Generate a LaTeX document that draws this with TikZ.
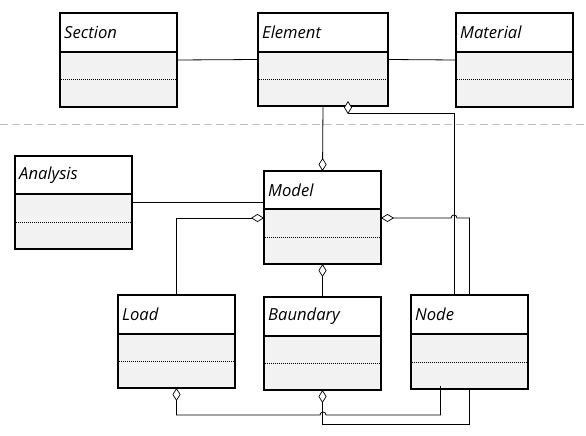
\documentclass[tikz,border=0pt]{standalone}
\usepackage{fontspec}
\setmainfont{Open Sans}
\usetikzlibrary{arrows.meta,calc}
\definecolor{boxgray}{HTML}{F2F2F2}
\definecolor{sepgray}{HTML}{BFBFBF}
\tikzset{
  classbody/.style={draw, line width=2pt, fill=boxgray, inner sep=0pt, outer sep=0pt, anchor=north west},
  classhead/.style={draw, line width=2pt, fill=white, inner sep=0pt, outer sep=0pt, anchor=north west},
  classname/.style={font=\itshape\fontsize{16.6}{18}\selectfont, anchor=west, inner sep=0pt},
  dotline/.style={line width=0.6pt, dash pattern=on 1pt off 1pt},
  link/.style={line width=0.8pt},
  agg/.style={link, -{Diamond[open, fill=white, width=8pt, length=13pt, line width=0.7pt]}},
  sepline/.style={sepgray, line width=1pt, dash pattern=on 8pt off 4pt}
}
\newcommand{\umlclass}[8]{%
  \node[classbody, minimum width={(#4-#2)*1pt}, minimum height={(#5-#3)*1pt}] (#1) at (#2,#3) {};
  \node[classhead, minimum width={(#4-#2)*1pt}, minimum height={(#6-#3)*1pt}] (#1-head) at (#2,#3) {};
  \draw[dotline] (#2+1,#7) -- (#4-1,#7);
  \node[classname] (#1-label) at ({#2+4},{(#3+#6)/2}) {#8};
}
\begin{document}
\begin{tikzpicture}[x=1pt,y=-1pt]
\useasboundingbox (0,0) rectangle (586,436);
% separator
\draw[sepline] (0,124) -- (586,124);
% classes
\umlclass{section}{60}{13}{177}{107}{52}{79}{Section}
\umlclass{element}{258}{13}{388}{106}{52}{79}{Element}
\umlclass{material}{456}{13}{573}{107}{52}{79}{Material}
\umlclass{analysis}{15}{156}{132}{249}{194}{222}{Analysis}
\umlclass{model}{264}{171}{381}{264}{209}{237}{Model}
\umlclass{load}{118}{295}{235}{388}{334}{361}{Load}
\umlclass{baundary}{264}{297}{381}{390}{336}{363}{Baundary}
\umlclass{node}{411}{295}{528}{389}{334}{362}{Node}
% plain associations
\draw[link] (section.east) -- (element.west);
\draw[link] (element.east) -- (material.west);
\draw[link] (analysis.east) -- (analysis.east -| model.west);
% aggregations
\draw[agg] (element.south) -- (model.north);
\draw[agg] (baundary.north) -- (model.south);
\draw[agg] (load.north) -- (load.north |- 0,218) -- (model.west |- 0,218);
\draw[agg] (node.north) -- (node.north |- 0,218) -- (457,218) arc[start angle=0, end angle=180, radius=3pt] -- (model.east |- 0,218);
\coordinate (ntop) at ($(node.north)+(-15,0)$);
\draw[agg] (ntop) -- (ntop |- 0,113) -- (348,113) -- (348,101);
\coordinate (nbot) at ($(node.south)+(-29,-3)$);
\draw[agg] (nbot) -- (nbot |- 0,415) -- (326,415) arc[start angle=0, end angle=180, radius=3pt] -- (load.south |- 0,415) -- (load.south);
\draw[agg] (node.south) -- (node.south |- 0,424) -- (baundary.south |- 0,424) -- (baundary.south);
\end{tikzpicture}
\end{document}
